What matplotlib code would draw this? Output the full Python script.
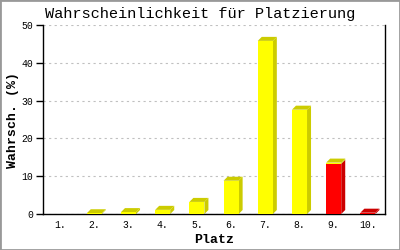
import matplotlib
matplotlib.use("Agg")
import matplotlib.pyplot as plt
from matplotlib.patches import Polygon, Rectangle
from matplotlib.transforms import IdentityTransform

# Wahrscheinlichkeit je Platz (%), gestapelt: gelber und roter Anteil
places = [1, 2, 3, 4, 5, 6, 7, 8, 9, 10]
labels = ["1.", "2.", "3.", "4.", "5.", "6.", "7.", "8.", "9.", "10."]
yellow = [0.0, 0.2, 0.5, 1.1, 3.2, 8.8, 45.8, 27.6, 0.3, 0.0]
red = [0.0, 0.0, 0.0, 0.0, 0.0, 0.0, 0.0, 0.0, 13.3, 0.35]

FRONT = {"y": "#ffff00", "r": "#ff0000"}
DARK = {"y": "#cccc00", "r": "#cc0000"}
WIDTH = 0.44
DEPTH = 4  # pixel

font = "Liberation Mono"

fig = plt.figure(figsize=(4, 2.5), dpi=100)
ax = fig.add_axes([43 / 400, 1 - 214 / 250, 342 / 400, 189 / 250])
ax.set_xlim(0.5, 10.5)
ax.set_ylim(0, 50)

ax.yaxis.grid(True, color="#c0c0c0", linestyle=(0, (2, 3)), linewidth=0.8)
ax.set_axisbelow(True)
ax.spines["top"].set_visible(False)
for s in ["left", "bottom", "right"]:
    ax.spines[s].set_linewidth(1.0)

ax.set_yticks([0, 10, 20, 30, 40, 50])
ax.set_xticks(places)
ax.set_xticklabels(labels)
ax.tick_params(axis="x", length=0, pad=4)
ax.tick_params(axis="y", length=5, width=1, pad=2)
for t in ax.get_xticklabels() + ax.get_yticklabels():
    t.set_fontfamily(font)
    t.set_fontsize(7)

ax.set_xlabel("Platz", fontfamily=font, fontweight="bold", fontsize=9.5, labelpad=3)
ax.set_ylabel("Wahrsch. (%)", fontfamily=font, fontweight="bold", fontsize=9.5, labelpad=2)
fig.text(0.5, 1 - 14 / 250, "Wahrscheinlichkeit für Platzierung", ha="center", va="center",
         fontfamily=font, fontsize=11)


def box(x, bottom, top, col, with_top):
    ax.bar(x, top - bottom, bottom=bottom, width=WIDTH, color=FRONT[col],
           linewidth=0, zorder=3)
    (xl, yb), (xr, yt) = ax.transData.transform([(x - WIDTH / 2, bottom), (x + WIDTH / 2, top)])
    side = [(xr, yb), (xr + DEPTH, yb + DEPTH), (xr + DEPTH, yt + DEPTH), (xr, yt)]
    ax.add_patch(Polygon(side, closed=True, transform=IdentityTransform(),
                         facecolor=DARK[col], edgecolor="none", zorder=2, clip_on=False))
    if with_top:
        cap = [(xl, yt), (xl + DEPTH, yt + DEPTH), (xr + DEPTH, yt + DEPTH), (xr, yt)]
        ax.add_patch(Polygon(cap, closed=True, transform=IdentityTransform(),
                             facecolor=DARK[col], edgecolor="none", zorder=2, clip_on=False))


for x, r, y in zip(places, red, yellow):
    if r + y == 0:
        continue
    if r > 0:
        box(x, 0, r, "r", y == 0)
    if y > 0:
        box(x, r, r + y, "y", True)

fig.patches.append(Rectangle((0, 0), 1, 1, transform=fig.transFigure, fill=False,
                             edgecolor="#999999", linewidth=2))

fig.savefig("out.png", dpi=100)
